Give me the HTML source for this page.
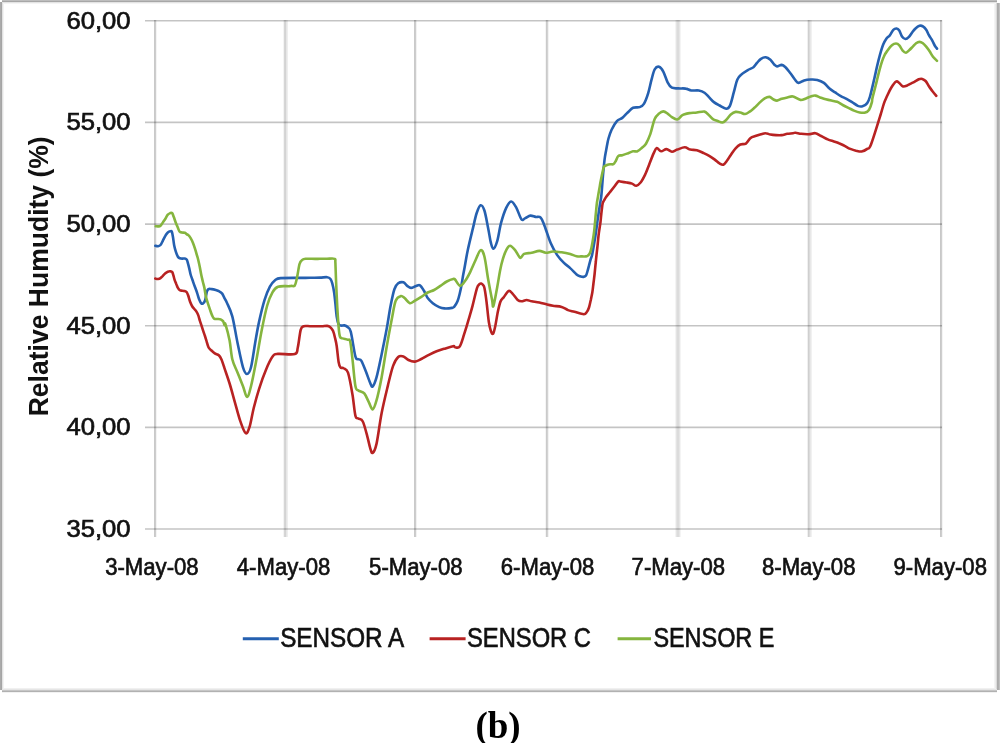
<!DOCTYPE html>
<html><head><meta charset="utf-8"><style>
html,body{margin:0;padding:0;background:#fff;}
body{width:1000px;height:743px;overflow:hidden;}
svg{display:block;filter:blur(0.45px);}
.yl{font-family:"Liberation Sans",sans-serif;font-size:23px;fill:#111;stroke:#111;stroke-width:0.65px;}
.xl{font-family:"Liberation Sans",sans-serif;font-size:23.5px;fill:#111;stroke:#111;stroke-width:0.65px;}
.ti{font-family:"Liberation Sans",sans-serif;font-size:28px;font-weight:bold;fill:#111;}
.lg{font-family:"Liberation Sans",sans-serif;font-size:27px;fill:#111;stroke:#111;stroke-width:0.65px;}
.cap{font-family:"Liberation Serif",serif;font-size:37px;font-weight:bold;fill:#000;}
</style></head><body>
<svg width="1000" height="743" viewBox="0 0 1000 743">
<rect width="1000" height="743" fill="#fff"/>
<rect x="2" y="0" width="995" height="1" fill="#bdbdbd"/>
<rect x="2" y="1" width="995" height="1" fill="#a7a7a7"/>
<rect x="2" y="2" width="995" height="1" fill="#e4e4e4"/>
<rect x="3" y="3" width="993" height="1" fill="#f5f5f5"/>
<rect x="0" y="2" width="1" height="688" fill="#ababab"/>
<rect x="1" y="2" width="1" height="688" fill="#a5a5a5"/>
<rect x="2" y="3" width="1" height="687" fill="#e2e2e2"/>
<rect x="3" y="4" width="1" height="684" fill="#f3f3f3"/>
<rect x="3" y="688" width="993" height="1" fill="#f0f0f0"/>
<rect x="2" y="689" width="995" height="1" fill="#e6e6e6"/>
<rect x="2" y="690" width="995" height="1" fill="#c6c6c6"/>
<rect x="2" y="691" width="995" height="1" fill="#b1b1b1"/>
<rect x="2" y="692" width="995" height="1" fill="#f2f2f2"/>
<rect x="994" y="4" width="1" height="684" fill="#f4f4f4"/>
<rect x="995" y="4" width="1" height="684" fill="#ececec"/>
<rect x="996" y="3" width="1" height="686" fill="#dadada"/>
<rect x="997" y="3" width="1" height="687" fill="#acacac"/>
<rect x="998" y="3" width="1" height="687" fill="#afafaf"/>
<rect x="999" y="3" width="1" height="687" fill="#c0c0c0"/>
<rect x="154" y="20" width="1" height="517" fill="#c9c9c9"/>
<rect x="155" y="20" width="1" height="517" fill="#cdcdcd"/>
<rect x="156" y="20" width="1" height="517" fill="#f4f4f4"/>
<rect x="283" y="20" width="1" height="517" fill="#f4f4f4"/>
<rect x="284" y="20" width="1" height="517" fill="#d6d6d6"/>
<rect x="285" y="20" width="1" height="517" fill="#d3d3d3"/>
<rect x="286" y="20" width="1" height="517" fill="#e6e6e6"/>
<rect x="287" y="20" width="1" height="517" fill="#eeeeee"/>
<rect x="414" y="20" width="1" height="517" fill="#cacaca"/>
<rect x="415" y="20" width="1" height="517" fill="#cdcdcd"/>
<rect x="416" y="20" width="1" height="517" fill="#f2f2f2"/>
<rect x="545" y="20" width="1" height="517" fill="#f5f5f5"/>
<rect x="546" y="20" width="1" height="517" fill="#cacaca"/>
<rect x="547" y="20" width="1" height="517" fill="#d3d3d3"/>
<rect x="548" y="20" width="1" height="517" fill="#f3f3f3"/>
<rect x="675" y="20" width="1" height="517" fill="#f4f4f4"/>
<rect x="676" y="20" width="1" height="517" fill="#e4e4e4"/>
<rect x="677" y="20" width="1" height="517" fill="#dcdcdc"/>
<rect x="678" y="20" width="1" height="517" fill="#dcdcdc"/>
<rect x="679" y="20" width="1" height="517" fill="#e6e6e6"/>
<rect x="680" y="20" width="1" height="517" fill="#f4f4f4"/>
<rect x="807" y="20" width="1" height="517" fill="#f0f0f0"/>
<rect x="808" y="20" width="1" height="517" fill="#cfcfcf"/>
<rect x="809" y="20" width="1" height="517" fill="#dadada"/>
<rect x="810" y="20" width="1" height="517" fill="#e8e8e8"/>
<rect x="811" y="20" width="1" height="517" fill="#f1f1f1"/>
<rect x="940" y="20" width="1" height="517" fill="#c8c8c8"/>
<rect x="941" y="20" width="1" height="517" fill="#cecece"/>
<rect x="942" y="20" width="1" height="517" fill="#f4f4f4"/>
<line x1="145" y1="20.8" x2="942" y2="20.8" stroke="#000" stroke-opacity="0.23" stroke-width="1.6"/>
<line x1="145" y1="122.4" x2="942" y2="122.4" stroke="#000" stroke-opacity="0.23" stroke-width="1.6"/>
<line x1="145" y1="224.1" x2="942" y2="224.1" stroke="#000" stroke-opacity="0.23" stroke-width="1.6"/>
<line x1="145" y1="325.7" x2="942" y2="325.7" stroke="#000" stroke-opacity="0.23" stroke-width="1.6"/>
<line x1="145" y1="427.4" x2="942" y2="427.4" stroke="#000" stroke-opacity="0.23" stroke-width="1.6"/>
<line x1="145" y1="529.0" x2="942" y2="529.0" stroke="#000" stroke-opacity="0.23" stroke-width="1.6"/>
<text x="66.4" y="28.8" class="yl" textLength="64.2" lengthAdjust="spacingAndGlyphs">60,00</text>
<text x="66.4" y="130.4" class="yl" textLength="64.2" lengthAdjust="spacingAndGlyphs">55,00</text>
<text x="66.4" y="232.1" class="yl" textLength="64.2" lengthAdjust="spacingAndGlyphs">50,00</text>
<text x="66.4" y="333.7" class="yl" textLength="64.2" lengthAdjust="spacingAndGlyphs">45,00</text>
<text x="66.4" y="435.4" class="yl" textLength="64.2" lengthAdjust="spacingAndGlyphs">40,00</text>
<text x="66.4" y="537.0" class="yl" textLength="64.2" lengthAdjust="spacingAndGlyphs">35,00</text>
<text x="105.2" y="575.0" class="xl" textLength="93.5" lengthAdjust="spacingAndGlyphs">3-May-08</text>
<text x="236.8" y="575.0" class="xl" textLength="93.5" lengthAdjust="spacingAndGlyphs">4-May-08</text>
<text x="369.1" y="575.0" class="xl" textLength="93.5" lengthAdjust="spacingAndGlyphs">5-May-08</text>
<text x="500.8" y="575.0" class="xl" textLength="93.5" lengthAdjust="spacingAndGlyphs">6-May-08</text>
<text x="631.6" y="575.0" class="xl" textLength="93.5" lengthAdjust="spacingAndGlyphs">7-May-08</text>
<text x="762.0" y="575.0" class="xl" textLength="93.5" lengthAdjust="spacingAndGlyphs">8-May-08</text>
<text x="893.5" y="575.0" class="xl" textLength="93.5" lengthAdjust="spacingAndGlyphs">9-May-08</text>
<text transform="translate(48.0,416.3) rotate(-90)" class="ti" textLength="280.0" lengthAdjust="spacingAndGlyphs">Relative Humudity (%)</text>
<path d="M155.3,245.8 C155.8,245.9 157.2,246.3 158.1,246.2 C159.0,246.1 159.7,245.9 160.5,245.0 C161.3,244.1 162.1,242.2 162.9,240.6 C163.7,239.0 164.6,237.0 165.4,235.7 C166.2,234.3 167.0,233.2 167.8,232.5 C168.6,231.8 169.5,231.4 170.2,231.3 C170.9,231.2 171.3,230.7 171.8,231.7 C172.3,232.7 172.6,235.0 173.0,237.3 C173.4,239.6 173.7,243.0 174.2,245.4 C174.7,247.8 175.3,250.0 175.9,251.9 C176.5,253.8 177.2,255.6 177.9,256.7 C178.6,257.8 179.2,258.0 179.9,258.3 C180.6,258.6 181.5,258.6 182.3,258.6 C183.1,258.7 184.0,258.4 184.8,258.6 C185.6,258.8 186.4,259.0 186.9,259.9 C187.4,260.8 187.7,262.4 188.1,263.8 C188.5,265.2 188.9,266.8 189.3,268.6 C189.7,270.4 190.1,272.6 190.6,274.5 C191.1,276.4 191.8,278.0 192.5,280.0 C193.2,282.0 193.9,284.2 194.7,286.3 C195.5,288.4 196.4,290.7 197.1,292.8 C197.8,294.9 198.4,297.4 199.1,299.2 C199.8,300.9 200.5,302.6 201.2,303.3 C201.9,304.0 202.5,303.9 203.2,303.3 C203.9,302.8 204.6,301.9 205.2,300.0 C205.8,298.1 206.3,293.8 206.8,292.0 C207.3,290.2 207.6,289.6 208.4,289.1 C209.2,288.6 210.5,289.0 211.7,289.1 C212.9,289.2 214.5,289.6 215.7,290.0 C216.9,290.4 217.8,290.6 218.9,291.2 C220.0,291.8 221.2,292.4 222.2,293.6 C223.1,294.8 223.8,296.9 224.6,298.4 C225.4,299.9 225.6,299.8 226.9,302.8 C228.2,305.8 230.5,309.6 232.3,316.3 C234.1,323.0 235.8,334.7 237.6,343.2 C239.4,351.7 241.4,362.2 243.0,367.3 C244.6,372.4 245.7,374.0 247.0,374.0 C248.3,374.0 249.7,372.4 251.0,367.3 C252.3,362.2 253.8,350.8 255.1,343.2 C256.4,335.6 257.5,328.8 259.1,321.6 C260.7,314.4 262.7,305.9 264.5,300.1 C266.3,294.3 268.1,290.1 269.9,286.7 C271.7,283.3 273.5,281.4 275.3,280.0 C277.1,278.6 276.5,278.5 280.6,278.1 C284.7,277.8 295.1,277.9 300.0,277.9 C304.9,277.8 306.7,277.9 310.0,277.8 C313.3,277.8 317.1,277.7 320.0,277.6 C322.9,277.5 325.4,277.0 327.1,277.2 C328.8,277.4 329.5,277.8 330.3,278.8 C331.1,279.8 331.6,281.0 332.2,283.2 C332.8,285.4 333.6,288.8 334.1,292.2 C334.6,295.6 335.0,299.6 335.4,303.7 C335.8,307.8 336.2,313.1 336.7,316.5 C337.2,319.9 337.9,322.7 338.6,324.2 C339.4,325.7 340.2,325.4 341.2,325.6 C342.2,325.8 343.3,325.2 344.4,325.4 C345.5,325.6 346.5,325.9 347.6,327.0 C348.7,328.1 349.5,326.9 350.8,331.8 C352.1,336.7 354.1,351.8 355.4,356.4 C356.7,361.0 357.4,358.6 358.4,359.3 C359.4,360.0 360.2,358.8 361.4,360.8 C362.6,362.8 364.3,367.5 365.8,371.2 C367.3,374.9 369.1,380.5 370.2,383.0 C371.3,385.5 371.6,387.3 372.7,386.4 C373.8,385.5 375.0,382.7 376.5,377.4 C378.0,372.1 379.9,362.5 381.6,354.4 C383.3,346.3 385.2,336.9 386.7,328.8 C388.2,320.7 389.3,312.4 390.6,305.8 C391.9,299.2 393.1,292.9 394.4,289.2 C395.7,285.4 396.7,284.4 398.2,283.3 C399.7,282.2 401.9,281.9 403.4,282.3 C404.9,282.7 405.9,285.0 407.2,285.9 C408.5,286.8 409.5,287.9 411.0,287.9 C412.5,287.9 414.7,286.3 416.2,285.9 C417.7,285.5 418.7,284.5 420.0,285.3 C421.3,286.1 422.5,288.4 423.8,290.5 C425.1,292.6 426.2,296.0 427.7,298.1 C429.2,300.2 430.9,301.7 432.8,303.2 C434.7,304.7 437.3,306.2 439.2,307.1 C441.1,308.0 442.2,308.3 444.3,308.4 C446.4,308.5 450.3,308.2 452.0,307.9 C453.7,307.6 453.4,307.7 454.3,306.6 C455.2,305.5 456.6,303.5 457.5,301.3 C458.4,299.1 459.1,296.2 459.7,293.7 C460.3,291.2 460.8,289.1 461.3,286.2 C461.8,283.3 462.4,279.5 462.9,276.5 C463.4,273.5 463.7,272.4 464.5,268.0 C465.3,263.6 466.4,256.6 467.8,250.0 C469.2,243.4 471.4,234.6 472.9,228.4 C474.4,222.2 475.4,216.8 476.7,213.0 C478.0,209.2 479.3,205.7 480.6,205.3 C481.9,204.9 483.1,206.7 484.4,210.5 C485.7,214.3 487.1,223.1 488.2,228.4 C489.3,233.7 489.9,239.0 490.8,242.4 C491.7,245.8 492.3,249.0 493.4,248.8 C494.5,248.6 495.9,245.5 497.2,241.2 C498.5,236.9 499.5,228.8 501.0,223.2 C502.5,217.6 504.5,211.5 506.2,207.9 C507.9,204.3 509.6,201.5 511.3,201.5 C513.0,201.5 514.7,204.9 516.4,207.9 C518.1,210.9 520.0,217.7 521.5,219.4 C523.0,221.1 523.8,218.7 525.3,218.1 C526.8,217.5 528.7,215.8 530.4,215.6 C532.1,215.4 533.9,216.6 535.6,216.9 C537.3,217.2 539.2,216.1 540.7,217.6 C542.2,219.1 542.8,221.5 544.5,225.8 C546.2,230.1 548.7,238.4 550.8,243.3 C552.9,248.2 555.1,251.9 557.2,255.1 C559.4,258.3 561.5,260.5 563.7,262.7 C565.9,264.9 568.1,266.1 570.2,268.1 C572.4,270.1 575.0,273.1 576.6,274.5 C578.2,275.9 578.9,275.8 580.0,276.2 C581.1,276.6 582.5,277.0 583.5,276.9 C584.5,276.8 585.4,276.4 586.0,275.5 C586.6,274.6 586.9,273.2 587.4,271.5 C587.9,269.8 588.5,267.4 589.0,265.5 C589.5,263.6 590.0,261.6 590.5,259.8 C591.0,258.1 591.6,257.3 592.1,255.0 C592.6,252.7 593.2,249.2 593.7,246.1 C594.2,243.0 594.8,239.8 595.3,236.5 C595.8,233.2 596.3,229.8 596.8,226.0 C597.3,222.2 597.9,217.8 598.5,214.0 C599.1,210.2 599.7,206.0 600.2,203.0 C600.7,200.0 600.8,200.4 601.3,196.0 C601.8,191.6 602.4,182.3 602.9,176.3 C603.4,170.3 604.0,164.5 604.5,160.2 C605.0,155.9 605.6,153.2 606.1,150.5 C606.6,147.8 606.9,146.0 607.3,144.0 C607.7,142.0 607.8,140.9 608.5,138.5 C609.2,136.1 610.2,132.6 611.6,129.7 C613.0,126.8 615.1,123.1 616.9,121.1 C618.7,119.1 620.5,119.3 622.3,117.9 C624.1,116.5 625.9,114.2 627.7,112.5 C629.5,110.8 631.1,108.7 633.1,107.8 C635.1,106.9 637.8,107.8 639.6,107.1 C641.4,106.4 642.5,106.2 643.9,103.9 C645.3,101.6 647.0,97.0 648.2,93.1 C649.5,89.1 650.3,84.2 651.4,80.2 C652.5,76.2 653.4,71.6 654.7,69.4 C656.0,67.2 657.6,66.4 659.0,66.8 C660.4,67.2 661.9,69.0 663.3,71.6 C664.7,74.2 666.2,79.6 667.6,82.3 C669.0,85.0 670.1,86.7 671.9,87.7 C673.7,88.7 676.1,88.2 678.4,88.4 C680.7,88.6 683.5,88.2 685.6,88.6 C687.8,88.9 689.1,90.2 691.3,90.5 C693.5,90.8 696.6,90.1 698.8,90.5 C701.0,90.9 702.8,91.5 704.5,92.7 C706.2,93.9 707.6,95.8 709.2,97.4 C710.8,99.0 712.2,100.8 713.9,102.1 C715.6,103.4 717.5,104.4 719.5,105.5 C721.5,106.6 724.4,108.6 726.1,108.7 C727.8,108.8 728.6,108.6 729.9,105.9 C731.2,103.2 732.5,97.1 733.7,92.7 C735.0,88.3 736.0,82.6 737.4,79.5 C738.8,76.4 740.4,75.5 742.1,73.9 C743.8,72.3 745.9,71.2 747.8,70.1 C749.7,69.0 751.8,68.5 753.4,67.3 C755.0,66.0 755.9,64.0 757.2,62.6 C758.5,61.2 759.6,59.7 761.0,58.8 C762.4,57.9 764.1,57.1 765.7,57.3 C767.3,57.5 769.0,58.6 770.4,59.8 C771.8,61.0 773.1,63.4 774.2,64.5 C775.3,65.6 775.8,66.3 777.0,66.4 C778.2,66.5 780.3,64.8 781.7,64.9 C783.1,65.1 784.1,66.0 785.5,67.3 C786.9,68.6 788.6,71.0 790.2,73.0 C791.8,75.0 793.5,77.8 794.9,79.5 C796.3,81.2 797.0,82.7 798.5,82.9 C800.0,83.1 802.1,81.1 804.1,80.5 C806.1,79.9 808.5,79.6 810.7,79.5 C812.9,79.4 815.1,79.3 817.3,79.9 C819.5,80.5 821.9,81.5 823.9,82.9 C825.9,84.4 827.6,87.0 829.5,88.6 C831.4,90.2 833.3,91.2 835.2,92.4 C837.1,93.7 838.9,95.0 840.8,96.1 C842.7,97.2 844.6,97.8 846.5,98.8 C848.4,99.8 850.2,100.9 852.1,102.1 C854.0,103.3 856.1,105.2 857.8,105.9 C859.5,106.6 860.9,106.8 862.5,106.3 C864.1,105.8 866.0,104.7 867.2,103.1 C868.5,101.5 868.8,100.6 870.0,96.5 C871.2,92.4 873.2,83.4 874.4,78.3 C875.6,73.2 876.2,69.9 877.1,66.1 C878.0,62.3 878.8,59.0 879.8,55.4 C880.8,51.8 882.1,47.4 883.2,44.6 C884.3,41.8 885.4,40.2 886.5,38.6 C887.6,37.0 888.8,36.7 889.9,35.2 C891.0,33.7 892.2,30.9 893.3,29.8 C894.4,28.7 895.6,28.4 896.6,28.5 C897.6,28.6 898.4,29.2 899.3,30.5 C900.2,31.8 901.0,35.1 902.0,36.5 C903.0,37.9 904.3,38.9 905.4,39.0 C906.5,39.1 907.6,38.3 908.7,37.2 C909.8,36.1 911.0,34.0 912.1,32.5 C913.2,31.1 914.3,29.6 915.5,28.5 C916.7,27.4 918.3,26.2 919.5,25.8 C920.7,25.4 921.8,25.7 922.9,26.4 C924.0,27.1 925.2,28.3 926.2,29.8 C927.2,31.3 927.9,33.4 928.9,35.2 C929.9,37.0 931.3,38.8 932.3,40.6 C933.3,42.4 934.2,44.7 935.0,46.0 C935.8,47.3 936.7,48.2 937.0,48.6" fill="none" stroke="#2560b0" stroke-width="2.6" stroke-linejoin="round" stroke-linecap="round"/>
<path d="M155.3,278.6 C155.8,278.7 157.2,279.1 158.1,279.0 C159.0,278.9 159.7,278.7 160.5,278.2 C161.3,277.7 162.1,276.6 162.9,275.8 C163.7,275.0 164.6,274.0 165.4,273.3 C166.2,272.6 167.0,272.0 167.8,271.7 C168.6,271.4 169.5,271.2 170.2,271.3 C170.9,271.4 171.7,271.4 172.2,272.1 C172.7,272.8 173.0,274.1 173.4,275.4 C173.8,276.7 174.1,278.3 174.6,279.8 C175.1,281.3 175.8,282.9 176.3,284.2 C176.9,285.5 177.3,286.9 177.9,287.9 C178.5,288.9 179.2,289.8 179.9,290.3 C180.6,290.8 181.5,290.6 182.3,290.7 C183.1,290.8 184.0,290.9 184.7,291.1 C185.4,291.3 186.0,291.3 186.6,292.0 C187.2,292.7 187.6,293.8 188.2,295.5 C188.8,297.2 189.5,300.2 190.2,302.0 C190.9,303.8 191.6,305.3 192.3,306.5 C193.0,307.7 193.6,308.2 194.3,309.0 C195.0,309.8 195.6,310.3 196.3,311.4 C197.0,312.5 197.7,313.8 198.3,315.4 C198.9,317.0 199.4,319.4 200.0,321.1 C200.6,322.9 201.1,324.3 201.6,325.9 C202.1,327.5 202.7,329.2 203.2,330.8 C203.7,332.4 204.2,333.8 204.8,335.5 C205.4,337.2 205.9,339.0 206.5,341.0 C207.1,343.0 207.8,345.9 208.6,347.5 C209.4,349.1 210.5,349.5 211.5,350.5 C212.5,351.5 213.6,352.6 214.8,353.4 C216.0,354.2 217.7,354.2 218.8,355.2 C219.9,356.2 220.6,357.5 221.5,359.5 C222.4,361.5 222.8,363.3 224.2,367.3 C225.5,371.3 227.8,377.7 229.6,383.5 C231.4,389.3 233.1,396.0 234.9,402.3 C236.7,408.6 238.5,416.0 240.3,421.1 C242.1,426.2 244.1,432.3 245.7,433.2 C247.3,434.1 248.3,430.8 249.7,426.5 C251.0,422.2 252.2,414.0 253.8,407.7 C255.4,401.4 257.1,395.1 259.1,388.8 C261.1,382.5 263.6,375.4 265.9,370.0 C268.1,364.6 270.6,359.3 272.6,356.6 C274.6,353.9 274.3,354.3 278.0,353.9 C281.7,353.5 291.5,355.1 294.8,354.0 C298.1,352.9 296.8,351.5 297.8,347.5 C298.8,343.5 299.7,333.4 300.7,329.8 C301.7,326.2 302.1,326.8 303.7,326.2 C305.2,325.6 307.9,326.2 310.0,326.2 C312.1,326.2 314.0,326.2 316.0,326.2 C318.0,326.2 320.1,326.4 322.0,326.3 C323.9,326.2 325.7,325.8 327.1,325.9 C328.5,326.0 329.3,326.4 330.3,327.2 C331.3,328.0 332.1,329.0 332.9,330.6 C333.6,332.2 334.2,334.4 334.8,337.0 C335.4,339.6 336.1,341.8 336.7,346.0 C337.3,350.2 338.0,358.4 338.6,362.0 C339.2,365.6 339.7,366.5 340.5,367.5 C341.3,368.5 342.4,367.3 343.6,368.2 C344.9,369.1 346.5,368.3 348.0,372.7 C349.5,377.1 351.3,387.6 352.5,394.8 C353.7,402.0 354.4,411.7 355.4,415.6 C356.4,419.6 357.2,417.5 358.4,418.5 C359.6,419.5 361.3,418.5 362.8,421.5 C364.3,424.5 366.1,431.9 367.3,436.3 C368.5,440.7 369.3,445.3 370.2,448.1 C371.1,450.9 371.6,453.6 372.7,452.9 C373.8,452.2 375.0,450.5 376.5,443.9 C378.0,437.3 379.7,423.0 381.6,413.2 C383.5,403.4 386.1,393.0 388.0,385.1 C389.9,377.2 391.4,370.6 393.1,365.9 C394.8,361.2 396.5,358.6 398.2,357.0 C399.9,355.4 401.7,355.9 403.4,356.4 C405.1,356.9 406.6,359.1 408.5,360.0 C410.4,360.9 412.8,361.8 414.9,361.6 C417.0,361.4 419.0,360.1 421.3,359.0 C423.6,357.9 426.3,356.2 428.9,354.9 C431.4,353.6 434.0,352.3 436.6,351.3 C439.2,350.3 441.5,349.7 444.3,348.8 C447.1,347.9 451.4,346.5 453.2,346.2 C455.0,345.9 453.9,347.1 455.0,347.2 C456.1,347.2 458.2,348.6 459.7,346.5 C461.2,344.4 462.6,339.0 464.0,334.7 C465.4,330.4 466.9,325.5 468.3,320.6 C469.7,315.8 471.2,311.0 472.6,305.6 C474.0,300.2 475.8,291.9 476.9,288.3 C478.0,284.7 478.8,285.0 479.5,284.2 C480.2,283.4 480.7,283.4 481.3,283.5 C481.9,283.6 482.5,284.2 483.0,285.0 C483.5,285.8 483.9,285.4 484.5,288.3 C485.1,291.2 485.9,296.7 486.6,302.3 C487.3,307.9 488.1,316.9 488.8,321.7 C489.5,326.5 490.3,329.4 491.0,331.4 C491.7,333.4 492.4,334.5 493.1,333.6 C493.8,332.7 494.5,329.8 495.3,326.0 C496.1,322.2 497.1,315.1 498.0,311.0 C498.9,306.9 499.6,303.8 500.5,301.5 C501.4,299.2 502.2,299.1 503.6,297.4 C505.0,295.6 507.2,291.6 508.7,291.0 C510.2,290.4 511.0,292.1 512.5,293.6 C514.0,295.1 516.2,298.7 517.7,300.0 C519.2,301.3 520.0,301.3 521.5,301.3 C523.0,301.3 524.9,300.0 526.6,300.0 C528.3,300.0 529.6,300.9 531.7,301.3 C533.8,301.7 536.8,301.9 539.4,302.5 C542.0,303.1 544.9,304.1 547.1,304.6 C549.4,305.2 550.5,305.4 552.9,305.8 C555.3,306.2 559.1,306.2 561.6,306.9 C564.1,307.6 565.9,309.3 568.0,310.1 C570.1,310.9 571.9,311.1 574.5,311.8 C577.1,312.5 581.8,314.1 583.8,314.2 C585.8,314.3 585.7,313.4 586.6,312.3 C587.5,311.2 588.3,309.6 589.0,307.5 C589.7,305.4 590.2,302.5 590.8,300.0 C591.3,297.5 591.8,295.3 592.3,292.5 C592.8,289.7 593.1,286.1 593.5,283.0 C593.9,279.9 594.2,277.5 594.6,274.0 C595.0,270.5 595.3,266.3 595.8,262.0 C596.2,257.7 596.8,252.5 597.3,248.0 C597.8,243.5 598.2,238.3 598.6,235.0 C599.0,231.7 599.3,230.2 599.6,228.0 C599.9,225.8 600.2,224.3 600.5,222.0 C600.8,219.7 601.0,216.3 601.3,214.0 C601.5,211.7 601.8,209.8 602.0,208.0 C602.2,206.2 602.4,204.6 602.7,203.3 C603.0,202.1 603.4,201.6 604.0,200.5 C604.6,199.4 605.1,198.4 606.1,197.0 C607.1,195.6 608.9,193.5 610.2,191.8 C611.6,190.1 612.9,188.5 614.2,186.8 C615.5,185.1 617.2,182.4 618.2,181.5 C619.2,180.6 618.8,181.3 620.2,181.5 C621.6,181.7 624.6,182.2 626.6,182.5 C628.6,182.8 630.4,183.0 632.0,183.6 C633.6,184.2 634.9,186.0 636.3,185.8 C637.7,185.6 639.1,184.3 640.6,182.5 C642.1,180.7 643.5,178.0 645.0,174.9 C646.5,171.8 647.9,167.8 649.3,164.2 C650.7,160.6 652.4,156.1 653.6,153.4 C654.9,150.7 655.5,148.4 656.8,148.1 C658.0,147.8 659.5,151.1 661.1,151.3 C662.7,151.5 664.7,149.0 666.5,149.1 C668.3,149.2 670.1,151.6 671.9,151.7 C673.7,151.8 675.2,150.3 677.3,149.6 C679.4,148.9 682.5,147.3 684.7,147.3 C686.9,147.3 688.4,149.1 690.4,149.6 C692.4,150.1 694.7,149.6 696.9,150.2 C699.1,150.8 701.5,152.1 703.5,153.0 C705.5,153.9 707.3,154.7 709.2,155.8 C711.1,156.9 713.1,158.3 714.8,159.6 C716.5,160.9 718.1,162.6 719.5,163.4 C720.9,164.2 722.0,165.2 723.3,164.7 C724.6,164.2 725.9,162.1 727.1,160.5 C728.4,158.9 729.4,156.9 730.8,154.9 C732.2,152.9 734.0,150.0 735.6,148.3 C737.2,146.6 738.6,145.3 740.3,144.5 C742.0,143.7 744.2,144.7 745.9,143.6 C747.6,142.5 749.0,139.2 750.6,137.9 C752.2,136.6 753.6,136.6 755.3,136.0 C757.0,135.4 759.3,134.7 761.0,134.2 C762.7,133.7 764.1,133.1 765.7,133.2 C767.3,133.2 768.7,134.2 770.4,134.5 C772.1,134.8 774.1,135.0 776.0,135.1 C777.9,135.2 779.8,135.3 781.7,135.1 C783.6,134.9 785.4,134.1 787.3,133.8 C789.2,133.5 791.6,133.4 793.0,133.2 C794.4,133.0 794.2,132.6 795.6,132.7 C797.0,132.8 799.1,133.6 801.3,133.8 C803.5,134.1 806.4,134.3 808.8,134.2 C811.1,134.1 813.3,132.9 815.4,133.2 C817.5,133.5 819.0,135.0 821.1,136.0 C823.2,137.0 825.7,138.5 827.7,139.4 C829.7,140.3 831.4,140.7 833.3,141.3 C835.2,141.9 837.1,142.4 839.0,143.2 C840.9,143.9 842.7,144.9 844.6,145.8 C846.5,146.8 848.4,148.1 850.3,148.9 C852.2,149.7 854.0,150.3 855.9,150.7 C857.8,151.1 859.7,151.8 861.6,151.5 C863.5,151.2 865.6,150.1 867.2,148.9 C868.8,147.7 868.8,150.2 871.0,144.5 C873.2,138.8 878.4,121.8 880.5,115.0 C882.6,108.2 882.7,107.0 883.8,103.8 C884.9,100.6 886.0,98.5 887.2,95.8 C888.4,93.1 889.7,90.1 891.2,87.7 C892.7,85.3 894.6,82.4 896.0,81.6 C897.4,80.8 898.2,82.2 899.3,83.0 C900.4,83.8 901.5,85.8 902.7,86.3 C903.9,86.8 905.4,86.2 906.7,85.7 C908.1,85.2 909.4,84.3 910.8,83.6 C912.1,82.9 913.5,82.3 914.8,81.6 C916.1,80.9 917.6,79.8 918.8,79.3 C920.0,78.8 921.1,78.6 922.2,78.9 C923.3,79.2 924.5,79.8 925.6,81.0 C926.7,82.2 927.8,84.6 928.9,86.3 C930.0,88.0 931.1,89.4 932.3,91.0 C933.5,92.6 935.6,95.0 936.3,95.8" fill="none" stroke="#b82222" stroke-width="2.6" stroke-linejoin="round" stroke-linecap="round"/>
<path d="M155.7,226.2 C156.1,226.2 157.3,226.5 158.1,226.4 C158.9,226.3 159.7,226.5 160.5,225.8 C161.3,225.1 162.1,223.6 162.9,222.4 C163.7,221.2 164.6,220.0 165.4,218.7 C166.2,217.4 167.0,215.6 167.8,214.7 C168.6,213.8 169.5,213.4 170.2,213.1 C170.9,212.8 171.6,212.4 172.2,213.1 C172.8,213.8 173.2,215.6 173.8,217.1 C174.4,218.6 174.9,220.4 175.5,222.0 C176.1,223.6 176.8,225.2 177.5,226.8 C178.2,228.4 178.8,230.6 179.5,231.5 C180.2,232.4 181.0,232.3 181.9,232.5 C182.8,232.7 183.9,232.5 184.8,232.8 C185.7,233.2 186.6,234.2 187.2,234.6 C187.8,234.9 187.5,234.3 188.1,234.9 C188.7,235.5 189.7,236.6 190.5,237.9 C191.3,239.2 192.2,241.1 192.9,242.8 C193.6,244.6 194.3,246.5 194.9,248.4 C195.5,250.3 196.1,252.2 196.6,254.1 C197.1,256.0 197.7,257.6 198.2,259.7 C198.7,261.8 199.3,264.5 199.8,267.0 C200.3,269.5 200.7,272.1 201.2,274.5 C201.7,276.9 202.3,279.3 202.8,281.5 C203.3,283.7 203.9,285.6 204.4,287.9 C204.9,290.2 205.2,293.2 205.6,295.2 C206.0,297.2 206.3,298.4 206.8,300.0 C207.3,301.6 207.9,303.3 208.4,304.9 C208.9,306.5 209.4,307.9 210.0,309.7 C210.6,311.4 211.4,313.9 212.1,315.4 C212.8,316.9 213.2,318.0 214.1,318.6 C215.0,319.2 216.2,318.9 217.3,319.0 C218.4,319.1 219.7,319.0 220.6,319.4 C221.5,319.8 222.3,320.2 223.0,321.1 C223.7,322.1 224.2,324.6 224.6,325.1 C225.0,325.6 224.7,321.7 225.5,324.3 C226.3,326.9 228.5,334.7 229.6,340.5 C230.7,346.3 231.0,353.9 232.3,359.3 C233.6,364.7 235.8,368.2 237.6,372.7 C239.4,377.2 241.4,382.2 243.0,386.2 C244.6,390.2 245.7,396.9 247.0,396.9 C248.3,396.9 249.4,392.5 251.0,386.2 C252.6,379.9 254.7,368.7 256.5,359.3 C258.3,349.9 260.0,338.7 261.8,329.7 C263.6,320.7 265.4,311.8 267.2,305.5 C269.0,299.2 270.8,295.2 272.6,292.1 C274.4,289.0 275.3,287.7 278.0,286.7 C280.7,285.7 286.5,286.3 288.7,286.2 C290.9,286.1 290.0,285.9 291.0,285.9 C292.0,285.8 293.7,286.5 294.5,285.9 C295.3,285.2 295.5,283.8 296.0,282.0 C296.5,280.2 296.9,278.0 297.5,275.0 C298.1,272.0 298.8,266.3 299.6,263.8 C300.4,261.3 301.3,260.6 302.4,259.8 C303.4,259.0 303.8,259.0 305.9,258.8 C308.0,258.6 312.6,258.9 315.0,258.9 C317.4,258.9 318.0,258.8 320.0,258.8 C322.0,258.8 324.6,258.8 327.0,258.8 C329.4,258.8 333.2,258.1 334.6,258.8 C336.0,259.5 335.1,258.9 335.4,262.8 C335.6,266.7 335.8,274.6 336.1,282.0 C336.4,289.4 336.9,300.1 337.3,307.5 C337.7,314.9 338.2,321.9 338.6,326.7 C339.0,331.5 339.2,334.6 339.9,336.5 C340.5,338.4 341.2,337.9 342.5,338.4 C343.8,338.9 346.3,339.2 347.6,339.7 C348.9,340.2 349.4,338.2 350.2,341.5 C351.0,344.8 351.6,351.9 352.5,359.3 C353.4,366.7 354.4,380.8 355.4,386.0 C356.4,391.2 356.9,389.2 358.4,390.4 C359.9,391.6 362.6,391.4 364.3,393.4 C366.0,395.4 367.4,399.5 368.8,402.2 C370.2,404.9 371.4,409.7 372.7,409.4 C374.0,409.1 375.0,405.7 376.5,400.4 C378.0,395.1 379.9,386.3 381.6,377.4 C383.3,368.4 385.0,356.5 386.7,346.7 C388.4,336.9 390.4,326.3 391.9,318.6 C393.4,310.9 394.2,304.4 395.7,300.7 C397.2,296.9 399.3,296.5 400.8,296.1 C402.3,295.7 403.1,296.9 404.6,298.1 C406.1,299.3 408.1,302.8 409.8,303.2 C411.5,303.6 413.0,301.8 414.9,300.7 C416.8,299.6 419.2,298.3 421.3,296.9 C423.4,295.5 425.6,293.6 427.7,292.5 C429.8,291.4 432.0,291.1 434.1,290.0 C436.2,288.9 438.3,287.3 440.4,285.9 C442.5,284.5 444.7,282.6 446.8,281.5 C448.9,280.4 451.8,279.3 453.2,279.0 C454.6,278.7 453.9,278.4 455.0,279.5 C456.1,280.6 458.4,285.7 460.1,285.9 C461.8,286.1 463.5,283.1 465.2,280.8 C466.9,278.5 468.6,275.2 470.3,271.8 C472.0,268.4 473.8,263.9 475.5,260.3 C477.2,256.7 479.1,250.7 480.6,250.1 C482.1,249.5 483.1,251.6 484.4,256.5 C485.7,261.4 486.9,272.2 488.2,279.5 C489.5,286.8 491.2,295.6 492.1,300.0 C493.0,304.4 492.5,308.1 493.4,306.0 C494.2,303.9 496.1,293.0 497.2,287.2 C498.3,281.4 499.1,275.7 500.0,271.0 C500.9,266.3 501.8,262.5 502.9,258.9 C504.0,255.3 505.4,251.6 506.6,249.4 C507.8,247.2 508.6,245.6 510.0,245.7 C511.4,245.8 513.4,248.1 515.1,250.1 C516.8,252.1 518.7,257.2 520.2,257.8 C521.7,258.4 522.2,254.8 524.1,253.9 C526.0,253.1 529.2,253.2 531.7,252.7 C534.2,252.2 537.0,250.9 539.4,250.9 C541.8,250.9 543.5,252.6 545.8,252.7 C548.0,252.8 550.3,251.6 552.9,251.5 C555.5,251.4 558.7,251.9 561.6,252.3 C564.5,252.7 567.7,253.4 570.2,254.1 C572.7,254.8 574.6,255.8 576.6,256.2 C578.6,256.6 580.4,256.4 582.0,256.4 C583.6,256.4 585.0,256.6 586.1,256.4 C587.2,256.2 587.8,255.6 588.5,255.0 C589.2,254.4 589.6,253.7 590.1,252.6 C590.6,251.5 590.9,250.2 591.3,248.5 C591.7,246.8 592.1,244.4 592.5,242.1 C592.9,239.8 593.3,237.5 593.7,234.8 C594.1,232.1 594.4,229.5 594.7,226.0 C595.1,222.5 595.4,217.8 595.8,214.0 C596.2,210.2 596.5,206.0 596.9,203.0 C597.3,200.0 597.7,198.5 598.1,196.0 C598.5,193.5 599.1,190.3 599.5,188.0 C599.9,185.7 600.1,184.0 600.5,182.0 C600.9,180.0 601.3,177.9 601.7,176.0 C602.1,174.1 602.5,172.2 602.9,170.6 C603.3,169.0 603.4,167.5 604.1,166.6 C604.8,165.7 605.9,165.4 606.9,165.0 C607.9,164.6 609.1,164.3 610.2,164.2 C611.3,164.1 612.5,164.7 613.4,164.2 C614.3,163.7 615.0,162.3 615.8,161.0 C616.6,159.7 617.1,157.1 618.2,156.1 C619.3,155.1 620.7,155.6 622.3,155.2 C623.9,154.8 625.9,154.1 627.7,153.4 C629.5,152.8 631.5,151.7 633.1,151.3 C634.7,151.0 636.0,151.9 637.4,151.3 C638.8,150.8 640.3,149.3 641.7,148.0 C643.1,146.7 644.6,146.0 646.0,143.7 C647.4,141.4 648.8,138.2 650.3,134.1 C651.8,130.0 653.2,122.3 654.7,118.9 C656.2,115.5 657.6,114.8 659.0,113.6 C660.4,112.3 661.9,111.4 663.3,111.4 C664.7,111.4 666.2,112.6 667.6,113.6 C669.0,114.6 670.3,116.2 671.9,117.2 C673.5,118.2 675.7,119.7 677.3,119.4 C678.9,119.2 680.5,116.5 681.6,115.7 C682.7,114.9 682.5,114.8 683.8,114.4 C685.1,114.0 687.2,113.4 689.4,113.1 C691.6,112.8 694.4,112.8 696.9,112.5 C699.4,112.2 702.6,111.3 704.5,111.6 C706.4,111.9 706.8,113.2 708.2,114.4 C709.6,115.7 711.3,118.0 712.9,119.1 C714.5,120.2 716.1,120.4 717.7,121.0 C719.3,121.6 721.0,122.7 722.4,122.5 C723.8,122.3 724.7,121.3 726.1,120.0 C727.5,118.7 729.2,115.8 730.8,114.4 C732.4,113.1 734.0,112.2 735.6,111.9 C737.2,111.6 738.7,112.2 740.3,112.5 C741.9,112.8 743.4,114.2 745.0,114.0 C746.6,113.8 748.1,112.6 749.7,111.6 C751.3,110.6 752.8,109.2 754.4,107.8 C756.0,106.4 757.4,104.7 759.1,103.1 C760.8,101.5 763.0,99.4 764.7,98.4 C766.4,97.4 768.1,96.8 769.5,96.9 C770.9,97.1 772.0,98.7 773.2,99.3 C774.5,99.9 775.6,100.7 777.0,100.6 C778.4,100.5 780.0,99.3 781.7,98.8 C783.4,98.3 785.4,97.8 787.3,97.4 C789.2,97.0 790.8,96.1 793.0,96.5 C795.2,96.9 798.2,99.6 800.4,99.9 C802.6,100.2 804.3,99.0 806.0,98.4 C807.7,97.8 809.1,97.0 810.7,96.5 C812.3,96.0 813.8,95.4 815.4,95.6 C817.0,95.8 818.4,96.8 820.1,97.4 C821.8,98.0 823.9,98.8 825.8,99.3 C827.7,99.8 829.5,100.2 831.4,100.6 C833.3,101.0 835.2,101.1 837.1,101.8 C839.0,102.5 840.8,104.0 842.7,105.0 C844.6,106.0 846.5,106.9 848.4,107.8 C850.3,108.7 852.1,109.8 854.0,110.6 C855.9,111.4 857.8,112.2 859.7,112.5 C861.6,112.8 863.7,113.0 865.3,112.5 C866.9,112.0 868.0,111.4 869.1,109.7 C870.2,108.0 871.4,104.0 871.9,102.1 C872.4,100.2 871.8,101.2 872.4,98.4 C873.0,95.6 874.6,89.9 875.8,85.0 C877.0,80.1 878.5,73.5 879.8,68.8 C881.1,64.1 882.4,59.8 883.8,56.7 C885.1,53.6 886.5,51.9 887.9,50.0 C889.2,48.1 890.5,46.4 891.9,45.3 C893.2,44.2 894.8,43.5 896.0,43.5 C897.2,43.5 898.2,44.1 899.3,45.3 C900.4,46.5 901.6,49.5 902.7,50.7 C903.8,51.9 904.9,52.8 906.0,52.7 C907.1,52.6 908.3,51.0 909.4,50.0 C910.5,49.0 911.7,47.7 912.8,46.6 C913.9,45.5 915.0,44.1 916.1,43.3 C917.2,42.5 918.4,41.9 919.5,41.9 C920.6,41.9 921.8,42.5 922.9,43.3 C924.0,44.1 925.1,45.3 926.2,46.6 C927.3,47.9 928.5,49.6 929.6,51.3 C930.7,53.0 931.8,55.1 933.0,56.7 C934.2,58.3 936.3,60.1 937.0,60.8" fill="none" stroke="#85b53e" stroke-width="2.6" stroke-linejoin="round" stroke-linecap="round"/>
<line x1="242.8" y1="638.8" x2="278.8" y2="638.8" stroke="#2560b0" stroke-width="3"/>
<text x="280.2" y="647.0" class="lg" textLength="124.0" lengthAdjust="spacingAndGlyphs">SENSOR A</text>
<line x1="429.6" y1="638.8" x2="465.6" y2="638.8" stroke="#b82222" stroke-width="3"/>
<text x="467.0" y="647.0" class="lg" textLength="124.0" lengthAdjust="spacingAndGlyphs">SENSOR C</text>
<line x1="617.6" y1="638.8" x2="651.0" y2="638.8" stroke="#85b53e" stroke-width="3"/>
<text x="653.4" y="647.0" class="lg" textLength="121.0" lengthAdjust="spacingAndGlyphs">SENSOR E</text>
<text x="498" y="737.5" text-anchor="middle" class="cap">(b)</text>
</svg>
</body></html>
